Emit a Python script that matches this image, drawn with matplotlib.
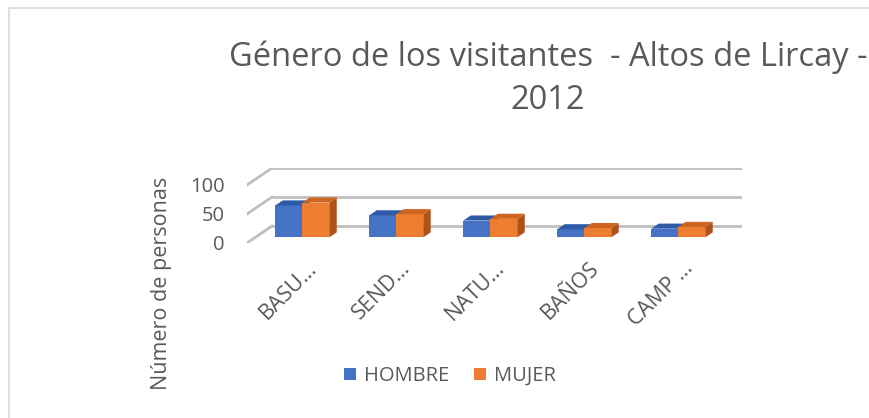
import numpy as np
import matplotlib.pyplot as plt
from matplotlib.patches import Polygon, Rectangle

plt.rcParams['font.family'] = ['Open Sans', 'DejaVu Sans']

# ---- data ----
categories = ["BASU…", "SEND…", "NATU…", "BAÑOS", "CAMP …"]
hombre = [55, 38, 29, 14, 15]
mujer = [60, 40, 32, 16, 18]
series_names = ["HOMBRE", "MUJER"]
yticks = [0, 50, 100]

# ---- style ----
TEXT = "#595959"
GRID = "#bfbfbf"
front_cols = ["#4472c4", "#ed7d31"]
top_cols = ["#2f5aa8", "#cf6420"]
side_cols = ["#2a4f94", "#ae5219"]

W, H = 869, 418
fig = plt.figure(figsize=(W / 100, H / 100), dpi=100)
fig.patch.set_facecolor("white")

# plot area (front-left corner to back-right corner)
ax = fig.add_axes([247 / W, (H - 243) / H, (742 - 247) / W, 75 / H])
DX, DY = 0.266, 29.3        # floor depth, in data units
F0, BD = 0.33, 0.30         # bar front position and bar depth (fraction of DX/DY)
bw = 0.287                  # width of one bar
n = len(categories)
x = np.arange(n)

ax.set_xlim(-0.5, n - 0.5 + DX)
ax.set_ylim(0, max(yticks) + DY)
for s in ax.spines.values():
    s.set_visible(False)
ax.set_xticks([])
ax.set_yticks(yticks)
ax.set_yticklabels([str(v) for v in yticks], color=TEXT, fontsize=14.5)
ax.tick_params(axis="y", length=0, pad=16)
ax.patch.set_alpha(0)

# back wall gridlines and left wall diagonals
for v in yticks:
    ax.plot([-0.5 + DX, n - 0.5 + DX], [v + DY, v + DY], color=GRID, lw=2, zorder=1,
            solid_capstyle="butt")
    ax.plot([-0.5, -0.5 + DX], [v, v + DY], color=GRID, lw=2, zorder=1)

# bars with fake 3D faces
handles = []
base = F0 * DY
sx = F0 * DX
dbx, dby = BD * DX, BD * DY
for k, vals in enumerate([hombre, mujer]):
    x0s = x + sx - bw + k * bw
    bars = ax.bar(x0s, vals, width=bw, bottom=base, align="edge",
                  color=front_cols[k], edgecolor="none", zorder=3 + k)
    handles.append(bars)
    for x0, v in zip(x0s, vals):
        top = base + v
        x1 = x0 + bw
        ax.add_patch(Polygon([(x0, top), (x1, top), (x1 + dbx, top + dby), (x0 + dbx, top + dby)],
                             closed=True, fc=top_cols[k], ec="none", zorder=3 + k))
        ax.add_patch(Polygon([(x1, base), (x1, top), (x1 + dbx, top + dby), (x1 + dbx, base + dby)],
                             closed=True, fc=side_cols[k], ec="none", zorder=2 + k))

# category labels
for i, lab in enumerate(categories):
    ax.text(i + 0.13, -25, lab, rotation=45, ha="right", va="top",
            rotation_mode="anchor", color=TEXT, fontsize=15.5, clip_on=False)

# title and axis label
fig.text(548 / W, 1 - 79 / H, "Género de los visitantes  - Altos de Lircay -\n2012",
         ha="center", va="center", fontsize=23.5, color=TEXT, linespacing=1.4)
fig.text(161 / W, 1 - 283 / H, "Número de personas", rotation=90,
         ha="center", va="center", fontsize=15.5, color=TEXT)

fig.legend(handles, series_names, loc="center", bbox_to_anchor=(450 / W, 1 - 376 / H),
           ncol=2, frameon=False, fontsize=14.5, labelcolor=TEXT,
           handlelength=0.6, handleheight=0.6, handletextpad=0.4, columnspacing=1.2)

# chart area border
fig.add_artist(Rectangle((9 / W, -0.1), 1.2, (H - 8) / H + 0.1, transform=fig.transFigure,
                         fill=False, ec="#d9d9d9", lw=1.2))

fig.savefig("out.png", dpi=100)
